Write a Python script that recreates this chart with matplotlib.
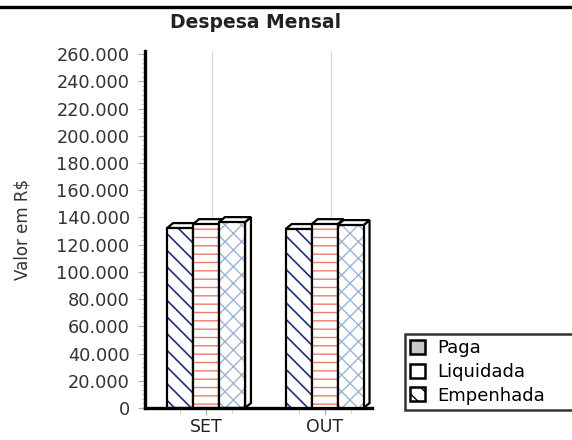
import matplotlib
matplotlib.use("Agg")
import matplotlib.pyplot as plt
from matplotlib.patches import Polygon, Patch
from matplotlib.ticker import FuncFormatter, AutoMinorLocator
import numpy as np

categories = ["SET", "OUT"]
series_names = ["Paga", "Liquidada", "Empenhada"]
paga = [132200, 131500]
liquidada = [135100, 135100]
empenhada = [136600, 134400]
y_ticks = list(range(0, 260001, 20000))

values = [paga, liquidada, empenhada]
hatches = ["\\\\", "--", "xx"]
hatch_colors = ["#1f2f7a", "#f07a6a", "#9ab4d4"]
hatch_lws = [1.2, 1.0, 1.0]

plt.rcParams['font.family'] = ['DejaVu Sans']

fig = plt.figure(figsize=(5.72, 4.40), dpi=100)
ax = fig.add_axes([0.2535, 0.0727, 0.397, 0.811])

w = 0.219
dx = 0.05
dy = 3670
x = np.arange(len(categories))

for ci in range(len(categories)):
    for si in range(len(series_names)):
        left = x[ci] + (si - 1.5) * w
        h = values[si][ci]
        z = 2 + si * 0.1 + ci
        side = Polygon([(left + w, 0), (left + w + dx, dy), (left + w + dx, h + dy), (left + w, h)],
                       closed=True, facecolor="white", edgecolor="black", lw=1.6, zorder=z)
        top = Polygon([(left, h), (left + dx, h + dy), (left + w + dx, h + dy), (left + w, h)],
                      closed=True, facecolor="white", edgecolor="black", lw=1.6, zorder=z)
        ax.add_patch(side)
        ax.add_patch(top)
        with plt.rc_context({'hatch.linewidth': hatch_lws[si]}):
            ax.bar(left, h, width=w, align="edge", color="white", edgecolor=hatch_colors[si],
                   hatch=hatches[si], lw=0, zorder=z + 0.02)
        ax.bar(left, h, width=w, align="edge", color="none", edgecolor="black",
               lw=1.6, zorder=z + 0.03)

for ci in range(len(categories)):
    ax.axvline(x[ci] + dx, color="#d8d8d8", lw=0.8, zorder=0.5)

ax.set_xlim(-0.515, 1.40)
ax.set_ylim(0, 262200)
ax.set_yticks(y_ticks)
ax.yaxis.set_minor_locator(AutoMinorLocator(6))
ax.yaxis.set_major_formatter(FuncFormatter(lambda v, p: f"{int(v):,}".replace(",", ".")))
ax.set_xticks(x)
ax.set_xticklabels(categories)
ax.set_xticks([x[c] + (s - 1.0) * w for c in range(2) for s in range(3)], minor=True)

for s in ["top", "right"]:
    ax.spines[s].set_visible(False)
ax.spines["left"].set_linewidth(2.4)
ax.spines["bottom"].set_linewidth(2.4)
ax.tick_params(axis="y", which="major", length=5, width=0.8, color="#aaaaaa", labelsize=12.8, labelcolor="#333333", pad=6)
ax.tick_params(axis="y", which="minor", length=3, width=0.6, color="#cccccc")
ax.tick_params(axis="x", which="major", length=5, width=0.8, color="#aaaaaa", labelsize=12.5, labelcolor="#222222", pad=2)
ax.tick_params(axis="x", which="minor", length=4, width=0.6, color="#cccccc")
ax.set_ylabel("Valor em R$", fontsize=12, color="#333333")
ax.yaxis.set_label_coords(-0.50, 0.5)

fig.text(0.446, 0.948, "Despesa Mensal", ha="center", va="center", fontsize=13.5,
         fontweight="bold", color="#222222")
fig.add_artist(plt.Line2D([0, 1], [0.985, 0.985], color="black", lw=2.4, transform=fig.transFigure))

handles = [Patch(facecolor="#c8c8c8", edgecolor="black", lw=1.8),
           Patch(facecolor="white", edgecolor="black", lw=1.8),
           Patch(facecolor="white", edgecolor="black", hatch="\\\\", lw=1.8)]
leg = fig.legend(handles, series_names, loc="lower left", bbox_to_anchor=(0.708, 0.068, 0.30, 0.182),
                 mode="expand", frameon=True, fancybox=False, fontsize=13, handlelength=0.8,
                 handleheight=0.8, handletextpad=0.7, borderpad=0.3, labelspacing=0.32,
                 borderaxespad=0)
leg.get_frame().set_edgecolor("black")
leg.get_frame().set_linewidth(1.8)

fig.savefig("out.png", dpi=100)
